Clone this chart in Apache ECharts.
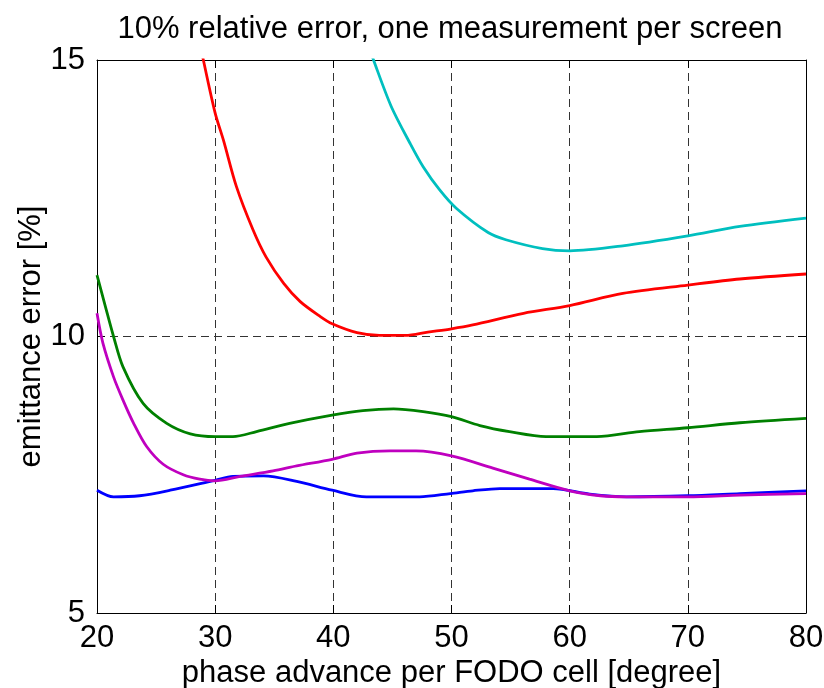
<!DOCTYPE html>
<html>
<head>
<meta charset="utf-8">
<script src="https://cdn.jsdelivr.net/npm/echarts@6/dist/echarts.min.js"></script>
<style>
  html, body { margin: 0; padding: 0; background: #fff; }
  #chart { width: 824px; height: 688px; }
</style>
</head>
<body>
<div id="chart"></div>
<script>
  // values (x = degree, y = %)
  var blueX = [20, 21.4, 23.6, 26.2, 30, 31.5, 34.1, 36.9, 39.9, 42.8, 47.3, 49.9, 51.8, 54.1, 58.6, 61.7, 64.8, 70, 74.4, 80];
  var blueY = [7.22, 7.10, 7.12, 7.22, 7.40, 7.47, 7.48, 7.38, 7.22, 7.10, 7.10, 7.16, 7.21, 7.25, 7.25, 7.15, 7.10, 7.12, 7.16, 7.21];

  var greenX = [20, 20.7, 21.4, 22.2, 23.9, 25.9, 27.9, 30, 31.5, 33.5, 36.3, 39.9, 42.5, 45.1, 47.6, 50, 52.4, 54.9, 58, 60, 62.3, 65.9, 70, 74.4, 80];
  var greenY = [11.11, 10.55, 10.0, 9.45, 8.79, 8.43, 8.24, 8.19, 8.19, 8.28, 8.43, 8.58, 8.66, 8.69, 8.64, 8.55, 8.39, 8.28, 8.19, 8.19, 8.19, 8.28, 8.35, 8.44, 8.52];

  var redX = [28.5, 29, 30, 30.7, 31.8, 33.2, 34.3, 35.8, 37.2, 38.9, 39.9, 42, 43.9, 46.1, 48, 50, 51.8, 56.1, 60, 64.5, 70, 74.4, 80];
  var redY = [15.5, 15, 14.04, 13.55, 12.71, 11.93, 11.44, 10.96, 10.63, 10.36, 10.23, 10.07, 10.02, 10.02, 10.08, 10.14, 10.21, 10.42, 10.56, 10.78, 10.93, 11.04, 11.13];

  var cyanX = [43, 43.4, 44.9, 46.5, 47.6, 49, 50.4, 53.1, 54.6, 57.7, 60, 64.5, 70, 74.4, 80];
  var cyanY = [15.25, 15, 14.16, 13.49, 13.07, 12.65, 12.32, 11.88, 11.75, 11.59, 11.55, 11.64, 11.82, 11.99, 12.14];

  var magentaX = [20, 20.5, 21.4, 22.2, 23.1, 24.2, 25.6, 27.3, 28.7, 30, 32.1, 34.9, 36.9, 39.9, 42, 44.8, 47, 50, 53.5, 56.6, 60, 62.6, 64.8, 70, 74.4, 80];
  var magentaY = [10.42, 9.88, 9.27, 8.85, 8.43, 8.01, 7.69, 7.50, 7.42, 7.39, 7.47, 7.57, 7.66, 7.78, 7.89, 7.93, 7.93, 7.84, 7.62, 7.42, 7.21, 7.12, 7.10, 7.10, 7.13, 7.16];

  var font = 'Liberation Sans, Arial, sans-serif';

  function zip(xs, ys) {
    var out = [];
    for (var i = 0; i < xs.length; i++) out.push([xs[i], ys[i]]);
    return out;
  }

  function curve(xs, ys, color) {
    return {
      type: 'line',
      data: zip(xs, ys),
      showSymbol: false,
      smooth: 0.3,
      clip: true,
      lineStyle: { color: color, width: 2.8 },
      itemStyle: { color: color }
    };
  }

  var dash = { color: '#333', width: 1, type: [8, 5] };
  var tick = { inside: true, length: 8, lineStyle: { color: '#000' } };

  var chart = echarts.init(document.getElementById('chart'));
  chart.setOption({
    animation: false,
    backgroundColor: '#fff',
    title: {
      text: '10% relative error, one measurement per screen',
      left: 445,
      textAlign: 'center',
      top: 9,
      textStyle: { fontFamily: font, fontSize: 31, fontWeight: 'normal', color: '#000' }
    },
    grid: { left: 97, right: 18, top: 60, bottom: 75, outerBoundsMode: 'none', containLabel: false },
    xAxis: [{
      type: 'value',
      min: 20, max: 80, interval: 10,
      name: 'phase advance per FODO cell [degree]',
      nameLocation: 'middle',
      nameGap: 45,
      nameMoveOverlap: false,
      nameTextStyle: { fontFamily: font, fontSize: 31, color: '#000' },
      axisLine: { show: true, lineStyle: { color: '#000', width: 1 } },
      axisTick: tick,
      axisLabel: { fontFamily: font, fontSize: 31, color: '#000', margin: 10 },
      splitLine: { show: true, lineStyle: dash }
    }, {
      type: 'value', position: 'top',
      min: 20, max: 80, interval: 10,
      axisLine: { show: true, lineStyle: { color: '#000', width: 1 } },
      axisTick: tick,
      axisLabel: { show: false },
      splitLine: { show: false }
    }],
    yAxis: [{
      type: 'value',
      min: 5, max: 15, interval: 5,
      name: 'emittance error [%]',
      nameLocation: 'middle',
      nameGap: 50,
      nameMoveOverlap: false,
      nameTextStyle: { fontFamily: font, fontSize: 31, color: '#000' },
      axisLine: { show: true, lineStyle: { color: '#000', width: 1 } },
      axisTick: tick,
      axisLabel: { fontFamily: font, fontSize: 31, color: '#000', margin: 12 },
      splitLine: { show: true, lineStyle: dash }
    }, {
      type: 'value', position: 'right',
      min: 5, max: 15, interval: 5,
      axisLine: { show: true, lineStyle: { color: '#000', width: 1 } },
      axisTick: tick,
      axisLabel: { show: false },
      splitLine: { show: false }
    }],
    series: [
      curve(blueX, blueY, '#0000ff'),
      curve(greenX, greenY, '#008000'),
      curve(redX, redY, '#ff0000'),
      curve(cyanX, cyanY, '#00bfbf'),
      curve(magentaX, magentaY, '#bf00bf')
    ]
  });
</script>
</body>
</html>
